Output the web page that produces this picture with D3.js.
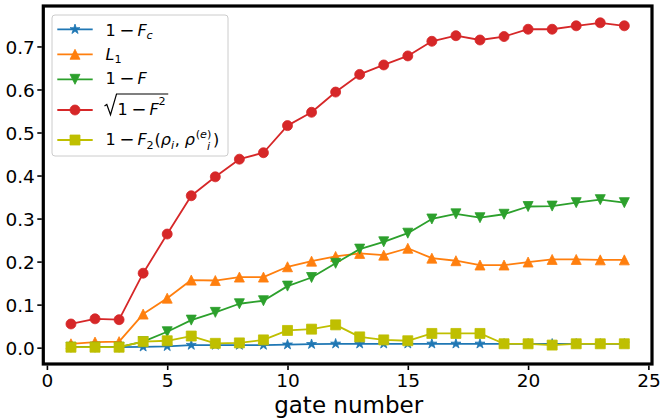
<!DOCTYPE html>
<html>
<head>
<meta charset="utf-8">
<script src="https://cdn.jsdelivr.net/npm/d3@7"></script>
<style>
  html, body { margin: 0; padding: 0; background: #fff; }
  svg { display: block; font-family: "DejaVu Sans", sans-serif; }
</style>
</head>
<body>
<svg id="chart" width="661" height="420"></svg>
<script>
// ---------------- data ----------------
const gates = [1,2,3,4,5,6,7,8,9,10,11,12,13,14,15,16,17,18,19,20,21,22,23,24];
const oneMinusFc = [0.001,0.001,0.001,0.002,0.003,0.006,0.006,0.006,0.006,0.007,0.008,0.009,0.009,0.009,0.009,0.009,0.009,0.009,0.009,0.009,0.009,0.009,0.009,0.009];
const L1 = [0.009,0.013,0.014,0.078,0.115,0.157,0.156,0.164,0.164,0.188,0.201,0.212,0.219,0.215,0.231,0.208,0.202,0.192,0.192,0.199,0.205,0.205,0.204,0.204];
const oneMinusF = [0.001,0.001,0.001,0.014,0.037,0.064,0.082,0.102,0.109,0.143,0.163,0.196,0.229,0.246,0.266,0.299,0.311,0.302,0.310,0.328,0.329,0.337,0.344,0.337];
const sqrtOneMinusF2 = [0.055,0.067,0.065,0.173,0.264,0.353,0.397,0.438,0.453,0.516,0.547,0.594,0.635,0.657,0.678,0.712,0.725,0.715,0.723,0.740,0.740,0.748,0.755,0.748];
const oneMinusF2rho = [0.001,0.001,0.001,0.014,0.016,0.027,0.010,0.011,0.018,0.040,0.043,0.053,0.025,0.018,0.016,0.033,0.033,0.033,0.009,0.009,0.006,0.009,0.009,0.009];
const xTicks = [0,5,10,15,20,25];
const yTicks = [0.0,0.1,0.2,0.3,0.4,0.5,0.6,0.7];
const xLabel = "gate number";

const seriesList = [
  {values: oneMinusFc, color: "#1f77b4", marker: "star"},
  {values: L1, color: "#ff7f0e", marker: "triUp"},
  {values: oneMinusF, color: "#2ca02c", marker: "triDown"},
  {values: sqrtOneMinusF2, color: "#d62728", marker: "circle"},
  {values: oneMinusF2rho, color: "#bfbf00", marker: "square"}
];

// ---------------- layout ----------------
const svg = d3.select("#chart");
const L = 43.3, R = 652, T = 6, B = 364;
const x = d3.scaleLinear().domain([-0.15, 25.15]).range([L, R]);
const y = d3.scaleLinear().domain([-0.038, 0.794]).range([B, T]);

const MS = 10;
function markerPath(type, s) {
  const h = s / 2;
  if (type === "circle") return d3.symbol(d3.symbolCircle, Math.PI * h * h)();
  if (type === "square") return `M${-h},${-h}H${h}V${h}H${-h}Z`;
  if (type === "triUp") return `M0,${-h}L${h},${h}L${-h},${h}Z`;
  if (type === "triDown") return `M0,${h}L${h},${-h}L${-h},${-h}Z`;
  if (type === "star") {
    const ro = h * 1.05, ri = ro * 0.381966;
    let p = "";
    for (let i = 0; i < 10; i++) {
      const r = i % 2 === 0 ? ro : ri;
      const a = -Math.PI / 2 + i * Math.PI / 5;
      p += (i === 0 ? "M" : "L") + (r * Math.cos(a)).toFixed(3) + "," + (r * Math.sin(a)).toFixed(3);
    }
    return p + "Z";
  }
}

const plot = svg.append("g");
const line = d3.line().x((d, i) => x(gates[i])).y(d => y(d));

seriesList.forEach(s => {
  const g = plot.append("g");
  g.append("path").attr("d", line(s.values)).attr("fill", "none")
    .attr("stroke", s.color).attr("stroke-width", 1.8).attr("stroke-linejoin", "round");
  g.selectAll("path.m").data(s.values).enter().append("path").attr("class", "m")
    .attr("d", markerPath(s.marker, MS))
    .attr("transform", (d, i) => `translate(${x(gates[i])},${y(d)})`)
    .attr("fill", s.color).attr("stroke", s.color).attr("stroke-width", 0.8);
});

// axes (spines + ticks)
const xAxis = d3.axisBottom(x).tickValues(xTicks).tickFormat(d3.format("d")).tickSize(4.5).tickPadding(5);
const yAxis = d3.axisLeft(y).tickValues(yTicks).tickFormat(d3.format(".1f")).tickSize(4.5).tickPadding(4);
const gx = svg.append("g").attr("transform", `translate(0,${B})`).call(xAxis);
const gy = svg.append("g").attr("transform", `translate(${L},0)`).call(yAxis);
[gx, gy].forEach(g => {
  g.select(".domain").remove();
  g.selectAll(".tick line").attr("stroke", "#000").attr("stroke-width", 1.6);
  g.selectAll(".tick text").attr("font-family", "DejaVu Sans").attr("font-size", 18.5).attr("fill", "#000");
});
gx.selectAll(".tick line").attr("y1", 1.5).attr("y2", 6);
gy.selectAll(".tick line").attr("x1", -1.5).attr("x2", -6);
gy.selectAll(".tick text").attr("dy", "0.36em");

svg.append("rect").attr("x", L).attr("y", T).attr("width", R - L).attr("height", B - T)
  .attr("fill", "none").attr("stroke", "#000").attr("stroke-width", 3.2);

svg.append("text").attr("x", (L + R) / 2 + 1).attr("y", 412.5).attr("text-anchor", "middle")
  .attr("font-size", 23).attr("fill", "#000").text(xLabel);

// ---------------- legend ----------------
const leg = svg.append("g");
leg.append("rect").attr("x", 52).attr("y", 15).attr("width", 176).attr("height", 141)
  .attr("rx", 3).attr("fill", "#fff").attr("fill-opacity", 0.8).attr("stroke", "#cccccc").attr("stroke-width", 1);

const FS = 16;
function mathText(g, x0, yb, pieces) {
  let cx = x0, lastStart = x0;
  pieces.forEach(p => {
    if (p.gap !== undefined) { cx += p.gap * FS; return; }
    const size = FS * (p.s || 1);
    const sx = p.stack ? lastStart : cx;
    const t = g.append("text").attr("x", sx).attr("y", yb + (p.dy || 0) * FS)
      .attr("font-size", size).attr("font-style", p.it ? "italic" : "normal")
      .attr("fill", "#000").text(p.t);
    let w;
    if (p.tl) { t.attr("textLength", p.tl).attr("lengthAdjust", "spacingAndGlyphs"); w = p.tl; }
    else w = t.node().getComputedTextLength();
    if (!p.stack) { lastStart = sx; cx = sx + w; } else { cx = Math.max(cx, sx + w); }
  });
  return cx;
}
const minus = [{gap: 0.22}, {t: "\u2212", tl: 15}, {gap: 0.2}];
const labels = [
  [{t: "1"}, ...minus, {t: "F", it: true}, {t: "c", it: true, s: 0.7, dy: 0.18}],
  [{t: "L", it: true}, {t: "1", s: 0.7, dy: 0.2}],
  [{t: "1"}, ...minus, {t: "F", it: true}],
  null,
  [{t: "1"}, ...minus, {t: "F", it: true}, {t: "2", s: 0.7, dy: 0.2}, {gap: 0.05}, {t: "("},
   {t: "\u03c1", it: true}, {t: "i", it: true, s: 0.7, dy: 0.2}, {gap: 0.05}, {t: ","}, {gap: 0.3},
   {t: "\u03c1", it: true}, {gap: 0.05}, {t: "(", s: 0.7, dy: -0.45}, {t: "e", it: true, s: 0.7, dy: -0.45}, {t: ")", s: 0.7, dy: -0.45},
   {t: "i", it: true, s: 0.7, dy: 0.28, stack: true}, {gap: 0.1}, {t: ")"}]
];
const rowY = [29.3, 54.3, 79.3, 110, 140];
const baseY = [35.7, 60, 84.3, 115, 145.3];
seriesList.forEach((s, i) => {
  const cy = rowY[i];
  leg.append("line").attr("x1", 57.3).attr("x2", 92.7).attr("y1", cy).attr("y2", cy)
    .attr("stroke", s.color).attr("stroke-width", 1.8);
  leg.append("path").attr("d", markerPath(s.marker, MS)).attr("transform", `translate(75,${cy})`)
    .attr("fill", s.color).attr("stroke", s.color).attr("stroke-width", 0.8);
  const base = baseY[i];
  if (labels[i]) {
    mathText(leg, 105.5, base, labels[i]);
  } else {
    // sqrt(1 - F^2)
    const endX = mathText(leg, 117.5, base, [{t: "1"}, ...minus, {t: "F", it: true}, {t: "2", s: 0.7, dy: -0.62}]);
    leg.append("path")
      .attr("d", `M104.5,${base - 9} L106.8,${base - 10.5} L110.5,${base - 0.3} L116.5,${base - 21} L${endX + 2.5},${base - 21}`)
      .attr("fill", "none").attr("stroke", "#000").attr("stroke-width", 1.2).attr("stroke-linejoin", "miter");
  }
});
</script>
</body>
</html>
